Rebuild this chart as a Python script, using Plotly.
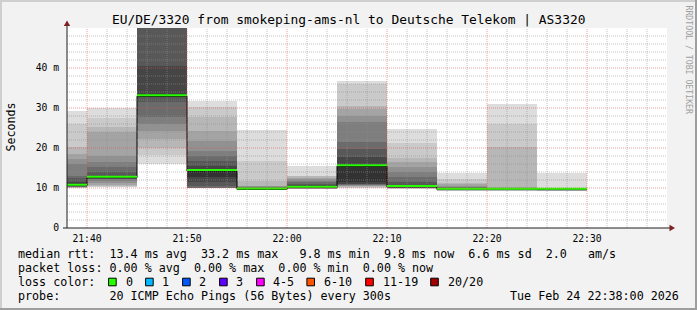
import pandas as pd
import plotly.graph_objects as go

# ---------------- data ----------------
day = "2026-02-24"
bucket_start = ["21:35", "21:40", "21:45", "21:50", "21:55", "22:00",
                "22:05", "22:10", "22:15", "22:20", "22:25"]
median_rtt = [10.8, 12.8, 33.2, 14.5, 9.9, 10.3, 15.7, 10.5, 9.8, 9.8, 9.8]

# 20 sorted ping rtts (ms) per 5-minute bucket (smoke)
ping_2135 = [9.9, 10.0, 10.1, 10.2, 10.3, 10.4, 10.5, 10.6, 10.7, 10.8,
             10.9, 11.5, 12.5, 13.1, 16.0, 17.3, 18.5, 20.2, 26.0, 29.2]
ping_2140 = [10.2, 10.3, 10.5, 10.8, 11.2, 11.8, 12.2, 12.4, 12.6, 12.7,
             12.9, 13.1, 13.9, 15.2, 16.4, 18.1, 23.9, 25.2, 27.5, 29.9]
ping_2145 = [16.0, 18.3, 20.0, 22.3, 24.3, 26.0, 27.7, 31.5, 32.8, 33.0,
             33.3, 40.6, 52.0, 55.0, 58.0, 62.0, 66.0, 70.0, 75.0, 80.0]
ping_2150 = [9.9, 9.9, 9.95, 10.0, 10.0, 10.05, 10.1, 10.6, 11.4, 12.7,
             14.6, 15.6, 16.8, 18.1, 19.3, 21.8, 24.3, 27.7, 30.2, 31.8]
ping_2155 = [9.8, 9.8, 9.8, 9.8, 9.8, 9.85, 9.85, 9.85, 9.9, 9.9,
             9.9, 9.95, 10.0, 10.1, 10.2, 10.4, 10.6, 11.8, 16.8, 24.5]
ping_2200 = [9.7, 9.8, 9.9, 10.0, 10.05, 10.1, 10.15, 10.2, 10.25, 10.3,
             10.35, 10.6, 11.0, 11.4, 11.8, 12.25, 12.6, 12.9, 13.1, 15.6]
ping_2205 = [9.9, 10.1, 10.3, 10.5, 10.6, 10.7, 10.8, 10.9, 11.0, 11.4,
             16.0, 17.7, 19.75, 21.4, 26.4, 28.1, 29.75, 30.5, 36.0, 36.7]
ping_2210 = [9.7, 9.8, 9.9, 10.0, 10.1, 10.2, 10.3, 10.35, 10.4, 10.45,
             10.6, 10.8, 11.4, 12.7, 13.9, 15.2, 16.4, 17.5, 21.3, 24.7]
ping_2215 = [9.7, 9.75, 9.8, 9.8, 9.8, 9.85, 9.85, 9.85, 9.9, 9.9,
             9.9, 9.95, 10.0, 10.1, 10.3, 10.6, 11.0, 11.2, 12.2, 13.8]
ping_2220 = [9.7, 9.7, 9.75, 9.75, 9.75, 9.8, 9.8, 9.8, 9.8, 9.8,
             9.8, 9.85, 9.9, 9.9, 9.95, 10.0, 10.1, 20.3, 26.0, 31.0]
ping_2225 = [9.3, 9.8, 9.8, 9.8, 9.8, 9.8, 9.8, 9.8, 9.8, 9.8,
             9.8, 9.8, 9.8, 9.8, 9.8, 9.8, 9.8, 9.8, 9.8, 13.7]

y_tick_vals = [0, 10, 20, 30, 40]
y_tick_text = ["0", "10 m", "20 m", "30 m", "40 m"]
x_tick_vals = ["21:40", "21:50", "22:00", "22:10", "22:20", "22:30"]

title_text = "EU/DE/3320 from smokeping-ams-nl to Deutsche Telekom | AS3320"
line_rtt = "median rtt:  13.4 ms avg  33.2 ms max   9.8 ms min  9.8 ms now  6.6 ms sd  2.0   am/s"
line_loss = "packet loss: 0.00 % avg  0.00 % max  0.00 % min  0.00 % now"
line_probe = "probe:       20 ICMP Echo Pings (56 Bytes) every 300s"
stamp_text = "Tue Feb 24 22:38:00 2026"
loss_labels = ["0", "1", "2", "3", "4-5", "6-10", "11-19", "20/20"]
loss_colors = ["#26ff00", "#00b8ff", "#0059ff", "#5e00ff", "#ff00ff",
               "#ff5500", "#ff0000", "#a10000"]

# ---------------- helpers ----------------
W, H = 697, 310
L, R, T, B = 67, 667, 28, 228
YMAX = 50
MONO = "DejaVu Sans Mono"


def px(x):
    return (x - L) / (R - L)


def py(y):
    return (B - y) / (B - T)


pings = [ping_2135, ping_2140, ping_2145, ping_2150, ping_2155, ping_2200,
         ping_2205, ping_2210, ping_2215, ping_2220, ping_2225]
starts = [pd.Timestamp(f"{day} {t}") for t in bucket_start]
step = pd.Timedelta(minutes=5)
mids = [s + step / 2 for s in starts]
ends = [s + step for s in starts]

fig = go.Figure()

# smoke bands (outermost first, innermost on top)
for k in range(10):
    g = int(190 / 10 * (10 - (k + 1))) + 50
    col = f"rgb({g},{g},{g})"
    fig.add_trace(go.Bar(
        x=mids,
        base=[p[k] for p in pings],
        y=[p[19 - k] - p[k] for p in pings],
        width=[step.total_seconds() * 1000] * len(pings),
        marker=dict(color=col, line=dict(width=0)),
        hoverinfo="skip", showlegend=False,
    ))

# black median step line
fig.add_trace(go.Scatter(
    x=starts + [ends[-1]], y=[m - 0.25 for m in median_rtt] + [median_rtt[-1] - 0.25],
    mode="lines", line=dict(color="#000000", width=1, shape="hv"),
    hoverinfo="skip", showlegend=False,
))

# green median segments (loss 0)
gx, gy = [], []
for s, e, m in zip(starts, ends, median_rtt):
    gx += [s, e, None]
    gy += [m, m, None]
fig.add_trace(go.Scatter(
    x=gx, y=gy, mode="lines", line=dict(color=loss_colors[0], width=2),
    hoverinfo="skip", showlegend=False,
))

x0 = pd.Timestamp(f"{day} 21:38")
x1 = pd.Timestamp(f"{day} 22:38")

shapes = []
# grid (drawn above the smoke like rrdtool)
minor_col = "rgba(143,143,143,0.55)"
major_col = "rgba(222,79,79,0.55)"
for v in range(2, YMAX, 2):
    major = v % 10 == 0
    shapes.append(dict(type="line", xref="paper", yref="y", x0=0, x1=1, y0=v, y1=v,
                       line=dict(color=major_col if major else minor_col, width=1, dash="1px,1px"),
                       layer="above"))
t = x0
while t < x1:
    if t > x0:
        major = t.minute % 10 == 0
        shapes.append(dict(type="line", xref="x", yref="paper", x0=t, x1=t, y0=0, y1=1,
                           line=dict(color=major_col if major else minor_col, width=1, dash="1px,1px"),
                           layer="above"))
    t += pd.Timedelta(minutes=2)

# axes + arrows
axis_col = "#1f1f1f"
arrow_col = "#801f1f"
shapes.append(dict(type="line", xref="paper", yref="paper", x0=px(67), x1=px(67),
                   y0=py(228), y1=py(25), line=dict(color=axis_col, width=1), layer="above"))
shapes.append(dict(type="line", xref="paper", yref="paper", x0=px(63), x1=px(670),
                   y0=py(228), y1=py(228), line=dict(color=axis_col, width=1), layer="above"))
shapes.append(dict(type="path", xref="paper", yref="paper",
                   path=f"M {px(67)} {py(20.5)} L {px(63.8)} {py(26)} L {px(70.2)} {py(26)} Z",
                   fillcolor=arrow_col, line=dict(width=0), layer="above"))
shapes.append(dict(type="path", xref="paper", yref="paper",
                   path=f"M {px(675)} {py(228)} L {px(669.5)} {py(224.8)} L {px(669.5)} {py(231.2)} Z",
                   fillcolor=arrow_col, line=dict(width=0), layer="above"))

# outer 3D frame
shapes.append(dict(type="rect", xref="paper", yref="paper", x0=px(0), x1=px(W), y0=py(0), y1=py(2),
                   fillcolor="#cfcfcf", line=dict(width=0), layer="below"))
shapes.append(dict(type="rect", xref="paper", yref="paper", x0=px(0), x1=px(2), y0=py(0), y1=py(H),
                   fillcolor="#cfcfcf", line=dict(width=0), layer="below"))
shapes.append(dict(type="rect", xref="paper", yref="paper", x0=px(0), x1=px(W), y0=py(H - 2), y1=py(H),
                   fillcolor="#9e9e9e", line=dict(width=0), layer="below"))
shapes.append(dict(type="rect", xref="paper", yref="paper", x0=px(W - 2), x1=px(W), y0=py(0), y1=py(H),
                   fillcolor="#9e9e9e", line=dict(width=0), layer="below"))

# loss color boxes
box_cx = [112.4, 149.4, 186.4, 223.4, 260.4, 310.7, 369.5, 434.5]
label_x = [124, 160.5, 197, 234, 271, 322, 381, 446]
for cx, c in zip(box_cx, loss_colors):
    shapes.append(dict(type="rect", xref="paper", yref="paper",
                       x0=px(cx - 3.8), x1=px(cx + 3.8), y0=py(278.2), y1=py(285.8),
                       fillcolor=c, line=dict(color="#000000", width=1), layer="above"))

ann = []
ann.append(dict(text=title_text, x=px(348), y=py(19), xref="paper", yref="paper",
                xanchor="center", yanchor="middle", showarrow=False,
                font=dict(family=MONO, size=12.9, color="#000")))
ann.append(dict(text="Seconds", x=px(10.5), y=py(127), xref="paper", yref="paper", textangle=-90,
                xanchor="center", yanchor="middle", showarrow=False,
                font=dict(family=MONO, size=11.6, color="#000")))
ann.append(dict(text="RRDTOOL / TOBI OETIKER", x=px(688.5), y=py(60), xref="paper", yref="paper",
                textangle=90, xanchor="center", yanchor="middle", showarrow=False,
                font=dict(family=MONO, size=8.2, color="#a0a0a0")))
for txt, yy in [(line_rtt, 254), (line_loss, 268), ("loss color:", 282), (line_probe, 296)]:
    ann.append(dict(text=txt.replace(" ", "&nbsp;"), x=px(15.5), y=py(yy), xref="paper", yref="paper",
                    xanchor="left", yanchor="middle", showarrow=False,
                    font=dict(family=MONO, size=11.7, color="#000")))
for lx, lab in zip(label_x, loss_labels):
    ann.append(dict(text=lab, x=px(lx - 0.5), y=py(282), xref="paper", yref="paper",
                    xanchor="left", yanchor="middle", showarrow=False,
                    font=dict(family=MONO, size=11.7, color="#000")))
ann.append(dict(text=stamp_text.replace(" ", "&nbsp;"), x=px(680.5), y=py(296), xref="paper", yref="paper",
                xanchor="right", yanchor="middle", showarrow=False,
                font=dict(family=MONO, size=11.7, color="#000")))

fig.update_layout(
    width=W, height=H,
    margin=dict(l=L, r=W - R, t=T, b=H - B, pad=0),
    paper_bgcolor="#f2f2f2", plot_bgcolor="#ffffff",
    barmode="overlay", bargap=0,
    showlegend=False,
    shapes=shapes, annotations=ann,
    xaxis=dict(type="date", range=[x0, x1], showgrid=False, zeroline=False, showline=False,
               tickvals=[pd.Timestamp(f"{day} {v}") for v in x_tick_vals],
               ticktext=x_tick_vals, ticks="outside", ticklen=1, tickcolor="rgba(0,0,0,0)",
               tickfont=dict(family=MONO, size=9.7, color="#000"), fixedrange=True),
    yaxis=dict(range=[0, YMAX], showgrid=False, zeroline=False, showline=False,
               tickvals=y_tick_vals, ticktext=y_tick_text, ticks="outside", ticklen=5,
               tickcolor="rgba(0,0,0,0)",
               tickfont=dict(family=MONO, size=9.7, color="#000"), fixedrange=True),
)

fig.write_html("out.html")
